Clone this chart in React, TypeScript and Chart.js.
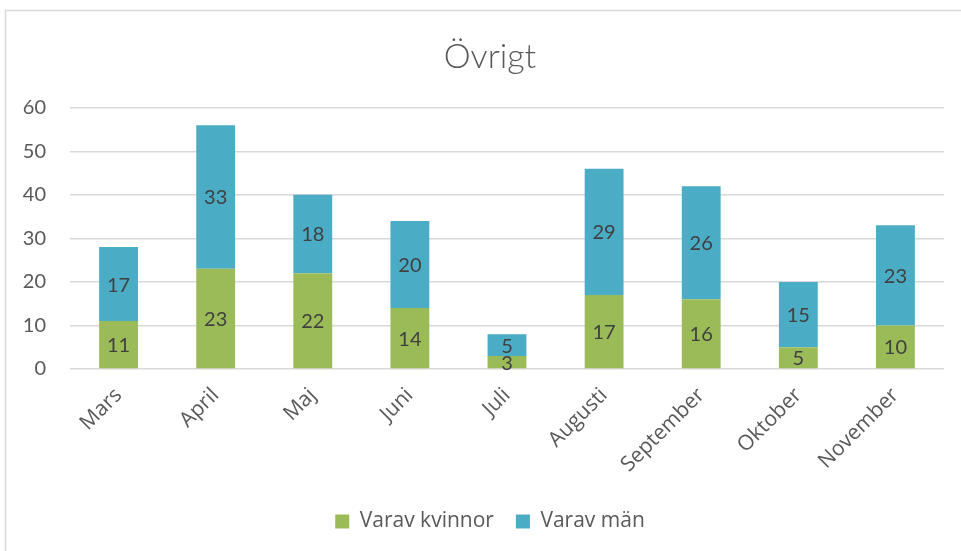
import React, { useEffect, useRef } from "react";
import { Chart, registerables } from "chart.js";

Chart.register(...registerables);

const title = "Övrigt";
const categories = ["Mars", "April", "Maj", "Juni", "Juli", "Augusti", "September", "Oktober", "November"];
const women = [11, 23, 22, 14, 3, 17, 16, 5, 10];
const men = [17, 33, 18, 20, 5, 29, 26, 15, 23];
const seriesNames = ["Varav kvinnor", "Varav män"];
const yTicks = [0, 10, 20, 30, 40, 50, 60];

const GREEN = "#9BBB59";
const BLUE = "#4BACC6";
const TEXT = "#595959";
const GRID = "#d9d9d9";

const framePlugin = {
  id: "frame",
  beforeDraw(chart: any) {
    const ctx = chart.ctx;
    ctx.save();
    ctx.fillStyle = "#ffffff";
    ctx.fillRect(0, 0, chart.width, chart.height);
    ctx.strokeStyle = GRID;
    ctx.lineWidth = 1.5;
    ctx.strokeRect(5.5, 10.5, 2000, 2000);
    ctx.restore();
  },
};

const labelPlugin = {
  id: "barLabels",
  afterDatasetsDraw(chart: any) {
    const ctx = chart.ctx;
    ctx.save();
    ctx.font = "20px Lato";
    ctx.fillStyle = "#404040";
    ctx.textAlign = "center";
    ctx.textBaseline = "middle";
    chart.data.datasets.forEach((ds: any, i: number) => {
      const meta = chart.getDatasetMeta(i);
      meta.data.forEach((el: any, j: number) => {
        const v = ds.data[j];
        const cx = el.x;
        const cy = (el.y + el.base) / 2;
        ctx.fillText(String(v), cx, cy + 1);
      });
    });
    ctx.restore();
  },
};

export default function App() {
  const ref = useRef<HTMLCanvasElement>(null);
  useEffect(() => {
    document.body.style.margin = "0";
    const chart = new Chart(ref.current!, {
      type: "bar",
      data: {
        labels: categories,
        datasets: [
          { label: seriesNames[0], data: women, backgroundColor: GREEN, barPercentage: 0.4, categoryPercentage: 1 },
          { label: seriesNames[1], data: men, backgroundColor: BLUE, barPercentage: 0.4, categoryPercentage: 1 },
        ],
      },
      options: {
        animation: false,
        responsive: false,
        maintainAspectRatio: false,
        layout: { padding: { left: 20, right: 1, top: 10, bottom: 9 } },
        plugins: {
          title: {
            display: true,
            text: title,
            color: TEXT,
            font: { family: "Lato", size: 34, weight: "300" as any },
            padding: { top: 27, bottom: 30 },
          },
          legend: {
            position: "bottom",
            labels: {
              color: TEXT,
              font: { family: "Open Sans", size: 21 },
              boxWidth: 14,
              boxHeight: 14,
              padding: 22,
            },
          },
          tooltip: { enabled: false },
        },
        scales: {
          x: {
            stacked: true,
            grid: { display: false },
            border: { display: false },
            afterFit(scale: any) {
              scale.height = 120;
              scale.paddingLeft = 0;
              scale.paddingRight = 17;
            },
            ticks: {
              color: TEXT,
              font: { family: "Open Sans", size: 21 },
              minRotation: 45,
              maxRotation: 45,
              padding: 6,
            },
          },
          y: {
            stacked: true,
            min: 0,
            max: 60,
            afterFit(scale: any) {
              scale.width = 50;
            },
            afterBuildTicks(scale: any) {
              scale.ticks = yTicks.map((v) => ({ value: v }));
            },
            grid: { color: GRID, lineWidth: 1.5, drawTicks: false },
            border: { display: false },
            ticks: {
              color: TEXT,
              font: { family: "Lato", size: 20 },
              padding: 24,
            },
          },
        },
      },
      plugins: [framePlugin, labelPlugin],
    });
    return () => chart.destroy();
  }, []);
  return (
    <div style={{ width: 961, height: 551 }}>
      <canvas ref={ref} width={961} height={551} style={{ display: "block" }} />
    </div>
  );
}
